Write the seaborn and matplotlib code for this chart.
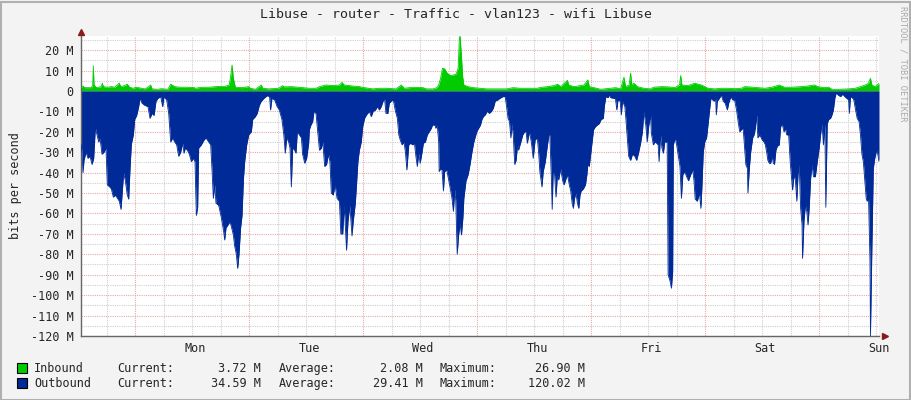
import numpy as np
import matplotlib
matplotlib.use('Agg')
import matplotlib.pyplot as plt
import seaborn as sns
from matplotlib.patches import Rectangle

# hours since left edge of graph, values in Mbit/s
in_hours = [0.0, 0.42, 0.77, 2.18, 2.46, 2.6, 2.74, 3.23, 4.28, 4.49, 4.7, 5.54, 6.39, 7.09, 8.07, 8.35,
            9.19, 9.75, 10.25, 10.95, 11.65, 12.7, 13.4, 13.75, 14.67, 14.95, 16.21, 16.9, 18.3, 18.88,
            19.72, 20.4, 21.1, 22.5, 23.9,
            24.0, 25.5, 26.9, 28.3, 30.4, 31.2, 31.5, 31.8, 32.07, 32.5, 33.9, 35.3, 35.65, 36.7, 37.96,
            38.25, 39.5, 41.6, 42.46, 42.74, 44.3, 45.8, 47.9,
            48.0, 49.5, 50.2, 51.6, 53.0, 54.4, 54.95, 55.4, 57.2, 58.6, 59.65, 61.4, 62.8, 64.2, 66.3,
            67.4, 68.1, 69.8, 72.0,
            72.7, 74.2, 74.9, 75.3, 75.7, 76.1, 76.56, 77.1, 77.8, 78.4, 78.95, 79.4, 79.65, 79.8, 80.07,
            80.35, 80.6, 81.5, 82.6, 84.0, 85.4, 86.8, 88.2, 89.6, 91.0, 92.4, 94.5, 96.0,
            97.0, 98.2, 99.6, 100.3, 101.0, 102.4, 102.67, 103.8, 105.2, 105.9, 106.7, 107.0, 108.0,
            109.4, 111.5, 112.6, 113.6, 114.3, 114.65, 115.4, 115.7, 115.96, 116.4, 117.1, 118.5, 119.9,
            120.5, 122.2, 123.6, 125.0, 126.0, 126.25, 126.5, 127.8, 129.2, 129.9, 130.6, 131.3, 132.0,
            133.4, 134.8, 136.2, 137.6, 139.0, 139.7, 141.1, 142.5, 144.0,
            145.4, 147.0, 148.1, 149.5, 151.6, 153.0, 154.4, 155.1, 156.5, 157.4, 158.1, 159.5, 161.6,
            163.0, 163.7, 165.1, 165.8, 166.2, 166.5, 167.2, 168.0]
in_bits = [1.6, 2.4, 1.6, 1.6, 2.9, 12.2, 2.9, 1.6, 2.1, 3.8, 2.1, 1.8, 2.1, 1.8, 3.8, 2.1,
           2.6, 3.3, 1.8, 1.3, 1.8, 1.3, 1.0, 1.3, 2.9, 1.0, 0.8, 1.1, 0.8, 3.3,
           2.1, 1.9, 1.8, 1.8, 1.6,
           1.3, 1.8, 1.8, 2.1, 2.3, 2.9, 7.0, 12.7, 6.2, 1.8, 1.6, 2.1, 1.3, 0.8, 2.9,
           1.3, 1.0, 1.3, 2.6, 2.0, 2.1, 1.8, 1.3,
           1.3, 1.3, 2.1, 2.9, 2.6, 2.9, 4.2, 2.9, 2.4, 2.1, 1.6, 1.0, 1.3, 1.3, 1.0,
           2.9, 1.3, 1.8, 1.6,
           1.0, 1.0, 1.6, 2.9, 6.2, 11.1, 10.8, 8.7, 7.5, 7.8, 8.2, 11.1, 25.8, 26.9, 17.6,
           7.0, 2.9, 2.1, 1.6, 1.3, 1.0, 1.0, 1.0, 1.0, 1.6, 1.3, 1.3, 1.3,
           1.8, 2.1, 2.6, 3.3, 2.1, 5.2, 2.9, 2.1, 2.6, 2.9, 5.4, 2.1, 1.6,
           0.8, 1.3, 1.6, 1.0, 6.7, 2.1, 2.9, 8.7, 2.9, 3.8, 2.1, 1.3, 1.0,
           1.8, 2.1, 2.0, 1.6, 2.9, 7.5, 2.9, 2.6, 3.8, 3.3, 2.9, 2.1, 1.3,
           1.0, 1.3, 1.3, 1.1, 1.3, 2.1, 1.9, 1.6, 1.3,
           1.8, 2.9, 1.8, 1.8, 2.1, 2.4, 2.9, 2.1, 1.6, 1.8, 0.8, 0.8, 1.0,
           1.3, 1.8, 2.9, 3.8, 6.2, 2.9, 2.1, 3.72]

out_hours = [0.0, 0.21, 0.42, 0.63, 1.05, 1.47, 1.89, 2.32, 2.67, 3.02, 3.37, 3.72, 4.0, 4.42, 4.84,
             5.26, 5.54, 6.04, 6.39, 6.81, 7.23, 7.65, 8.07, 8.42, 8.7, 8.98, 9.33, 9.75, 10.04, 10.32,
             10.6, 11.02, 11.3, 11.72, 12.14, 12.42, 12.84, 13.4, 14.1, 14.53, 14.95, 15.37, 15.79,
             16.21, 16.77, 17.19, 17.47, 18.04, 18.46, 18.88, 19.3, 19.72, 20.14, 20.56, 20.98, 21.4,
             21.68, 21.96, 22.39, 22.81, 23.23, 23.65, 24.0,
             24.28, 24.56, 24.77, 25.33, 25.9, 26.3, 26.9, 27.3, 27.6, 27.86, 28.14, 28.42, 28.98, 29.54,
             30.04, 30.25, 30.53, 30.95, 31.37, 31.65, 32.07, 32.35, 32.7, 32.98, 33.26, 33.6, 33.9,
             34.2, 34.46, 34.88, 35.3, 35.86, 36.14, 36.7, 37.1, 37.54, 37.96, 38.53, 39.2, 39.7, 39.9,
             40.2, 40.77, 41.3, 41.75, 42.3, 42.7, 43.0, 43.3, 43.72, 44.0, 44.28, 44.56, 44.98, 45.26,
             45.54, 45.96, 46.4, 46.65, 47.1, 47.5, 47.93,
             48.07, 48.4, 48.77, 49.05, 49.47, 49.9, 50.2, 50.6, 50.9, 51.3, 51.7, 52.1, 52.4, 52.7,
             53.1, 53.5, 53.9, 54.4, 54.7, 55.1, 55.4, 55.6, 55.9, 56.2, 56.6, 57.05, 57.3, 57.75, 58.0,
             58.3, 58.6, 59.0, 59.3, 59.7, 60.1, 60.7, 61.1, 61.5, 62.0, 62.4, 62.8, 63.2, 63.6, 63.9,
             64.2, 64.6, 64.9, 65.3, 65.75, 66.2, 66.6, 66.9, 67.2, 67.6, 68.0, 68.3, 68.6, 69.0, 69.4,
             69.8, 70.2, 70.5, 70.8, 71.1, 71.4, 71.8,
             72.07, 72.5, 72.9, 73.3, 73.75, 74.0, 74.5, 74.7, 75.0, 75.3, 75.4, 75.7, 76.0, 76.3, 76.56,
             77.0, 77.4, 77.8, 78.1, 78.4, 78.7, 78.9, 79.2, 79.5, 79.8, 80.1, 80.4, 80.6, 81.05, 81.5,
             81.9, 82.3, 82.7, 83.3, 83.7, 84.1, 84.4, 84.7, 85.1, 85.5, 85.96, 86.4, 86.8, 87.2, 87.75,
             88.2, 88.8, 89.3, 89.6, 89.9, 90.2, 90.5, 90.7, 91.0, 91.3, 91.6, 91.9, 92.1, 92.6, 93.0,
             93.4, 93.7, 93.96, 94.4, 94.8, 95.2, 95.6,
             96.07, 96.35, 96.6, 97.05, 97.3, 97.75, 98.2, 98.5, 98.7, 99.0, 99.2, 99.4, 99.7, 100.0,
             100.3, 100.56, 100.98, 101.4, 101.7, 102.1, 102.4, 102.8, 103.1, 103.4, 103.65, 103.9,
             104.2, 104.5, 104.8, 105.05, 105.3, 105.75, 106.2, 106.5, 106.7, 107.0, 107.3, 107.6, 107.9,
             108.3, 108.7, 109.1, 109.5, 109.96, 110.2, 110.5, 110.95, 111.2, 111.5, 112.1, 112.5, 112.8,
             113.05, 113.5, 113.75, 114.0, 114.5, 114.7, 115.0, 115.3, 115.7, 116.1, 116.6, 116.98,
             117.4, 117.8, 118.2, 118.5, 118.9, 119.2, 119.5, 119.9,
             120.07, 120.5, 120.8, 121.2, 121.5, 121.7, 122.0, 122.3, 122.6, 122.9, 123.2, 123.4, 123.6,
             124.0, 124.3, 124.56, 124.7, 125.1, 125.4, 125.7, 126.1, 126.4, 126.7, 127.1, 127.5, 127.9,
             128.35, 128.8, 129.05, 129.3, 129.75, 130.2, 130.5, 130.7, 131.0, 131.3, 131.7, 132.0,
             132.3, 132.6, 132.98, 133.3, 133.6, 133.75, 133.96, 134.4, 134.8, 135.2, 135.6, 136.07,
             136.35, 136.8, 137.2, 137.6, 138.0, 138.5, 138.7, 139.0, 139.4, 139.7, 139.96, 140.3, 140.4,
             140.7, 140.98, 141.4, 141.7, 141.96, 142.25, 142.5, 142.9, 143.4, 143.8,
             144.07, 144.35, 144.6, 144.9, 145.2, 145.5, 145.75, 146.0, 146.3, 146.6, 147.0, 147.3,
             147.6, 148.0, 148.3, 148.56, 148.98, 149.3, 149.5, 149.8, 150.1, 150.4, 150.7, 150.95,
             151.2, 151.5, 151.8, 151.9, 152.2, 152.5, 152.8, 153.05, 153.3, 153.6, 153.9, 154.2, 154.6,
             155.0, 155.4, 155.7, 156.0, 156.3, 156.6, 156.8, 157.1, 157.4, 157.8, 158.1, 158.4, 158.7,
             158.98, 159.4, 159.9, 160.35, 160.8, 161.2, 161.6, 161.75, 162.0, 162.5, 162.7, 163.0,
             163.4, 163.8, 164.1, 164.4, 164.7, 164.98, 165.3, 165.5, 165.8, 166.1, 166.2, 166.5, 166.8,
             167.1, 167.4, 167.6, 168.0]
out_bits = [26, 30, 40, 34, 30, 33, 32, 36, 33, 18, 21.5, 25, 23, 31, 30,
            28, 46, 47, 48, 52, 51, 52.5, 54, 58, 49, 40, 44, 51, 53, 38,
            26, 21.5, 14, 12, 7.7, 3.6, 6, 7, 7.7, 13.4, 11, 12, 5,
            3.6, 2.8, 7.7, 2.8, 4.4, 11, 25, 23, 25, 26.4, 32, 30, 25.6,
            30.5, 28, 29, 31, 34.6, 33, 34.6,
            61, 57, 28, 26.4, 24, 23, 25, 26.4, 39.5, 52.6, 46, 55, 56, 62,
            69, 73, 67, 65.6, 64, 66.4, 70.5, 76, 80, 86.9, 80, 67, 61,
            43, 34.6, 26.4, 21.5, 20, 14, 12.6, 11, 7, 5, 3.6, 2.3, 2.8, 9.3,
            3.6, 4.4, 7.7, 9.3, 14, 21.5, 30.5, 23, 25, 28, 47, 28, 29, 30.5,
            20, 21.5, 23, 31, 35.4, 33, 25.6,
            19, 16.7, 15, 10, 11, 21.5, 29, 28, 25, 37, 36, 31, 34.6, 50,
            51, 46, 52.6, 54, 70, 70, 56, 64, 78, 64, 56, 71, 64, 55, 46,
            34.6, 29, 25, 17.5, 13.4, 11.7, 10, 12.6, 10, 9.3, 7.7, 9.3, 7.7, 5, 3.6,
            11, 11, 6, 5, 4.4, 10, 13.4, 21.5, 24, 26.4, 25, 30, 38.7, 26.4, 25.6,
            26.4, 25.6, 32, 37, 30.5, 35.4, 30,
            25.6, 25, 21.5, 20, 18.3, 16.7, 16.7, 18.3, 16.7, 25, 39.5, 38, 38.7, 49, 39.5,
            38.7, 43.6, 48.5, 52.6, 59, 48, 54, 80, 70.5, 65, 70.5, 62, 52.6, 44, 41,
            36, 30, 25, 20, 18.3, 16.7, 14, 12.6, 11.7, 10, 11, 10, 8.5, 5, 4.4,
            3.6, 2.8, 2.8, 7.7, 13.4, 15, 23, 16, 21.5, 36, 34, 26.4, 29, 25, 21.5,
            20, 20, 25.6, 20, 25, 33, 24,
            23, 30.5, 39.5, 47, 39.5, 34.6, 26.4, 21.5, 21.5, 41, 58, 39.5, 41, 52,
            41, 43.6, 38, 44, 46, 43, 41, 46, 49, 55, 57.5, 52.6,
            50, 55, 57.5, 51, 49, 48, 46, 41, 36, 37, 31, 25, 19,
            17.5, 16.7, 16, 14, 13.4, 7, 2.8, 3.3, 2, 3.3, 3.6, 3.6, 9.3,
            4.4, 5, 11.7, 5, 7.7, 13.4, 23, 32, 34, 31, 32, 34,
            30, 25.6, 20, 10, 16.7, 25, 17.5, 11.7,
            20.7, 26.4, 25, 25.6, 26.4, 34.6, 21.5, 28, 30.5, 25, 25, 25, 90,
            93, 96.6, 88.5, 26.4, 23, 26.4, 31, 37, 52.6, 41, 39.5, 42, 44,
            41, 38.7, 44, 53, 54, 50, 57.5, 48, 30, 25, 23, 16.7,
            10, 3.6, 4.4, 5, 3.6, 11.7, 5, 3.6, 2, 5, 6, 9.3,
            6, 2.8, 4.4, 4.4, 9.3, 17.5, 20, 19, 18.3, 28, 36, 38, 50,
            38, 30, 23, 21.5, 18.3, 11.7, 23, 21.5, 24, 25,
            26.4, 30, 34, 35.4, 35.4, 32, 35.4, 36, 29, 27, 26.4, 17.5,
            16, 20, 18.3, 21.5, 21.5, 34.6, 40, 48.5, 41, 44, 54, 41,
            36, 57.5, 65.6, 82, 64, 56, 59, 65.6, 57.5, 43, 36, 42, 42,
            34.6, 28, 21.5, 16, 26.4, 16, 57, 16, 14, 13.4, 11.7, 9.3, 3.6,
            1, 2, 2.8, 1.6, 2.8, 3.6, 4.4, 11, 2.8, 3.6, 4.4, 8.5,
            13.4, 15, 21.5, 31, 34.6, 43, 52.6, 54, 52.6, 83.6, 120, 77, 38,
            33, 30, 29, 34.6]

day_labels = ['Mon', 'Tue', 'Wed', 'Thu', 'Fri', 'Sat', 'Sun']
day_hours = [24, 48, 72, 96, 120, 144, 168]

series_names = ['Inbound', 'Outbound']
series_colors = ['#00cc00', '#002a97']
current = ['3.72 M', '34.59 M']
average = ['2.08 M', '29.41 M']
maximum = ['26.90 M', '120.02 M']

in_h = np.array(in_hours)
in_v = np.array(in_bits)
out_h = np.array(out_hours)
out_v = -np.array(out_bits)

sns.set_theme(style='white')
plt.rcParams['font.family'] = ['DejaVu Sans Mono']

W, H = 911, 400
fig = plt.figure(figsize=(W / 100, H / 100), dpi=100, facecolor='#f3f3f3')
ax = fig.add_axes([81 / W, 64 / H, 798 / W, 300 / H])
ax.set_facecolor('white')

# grid (drawn under the data)
for y in np.arange(-120, 26, 5):
    c = '#e8a8a8' if y % 10 == 0 else '#cfcfcf'
    ax.axhline(y, color=c, lw=0.8, ls=(0, (1, 1)), zorder=0)
for x in np.arange(5.4, 168, 6):
    c = '#e8a8a8' if abs((x - 11.4) % 24) < 0.01 else '#cfcfcf'
    ax.axvline(x, color=c, lw=0.8, ls=(0, (1, 1)), zorder=0)

# areas
ax.fill_between(in_h, 0, in_v, color=series_colors[0], lw=0, zorder=2)
ax.fill_between(out_h, 0, out_v, color=series_colors[1], lw=0, zorder=2)
sns.lineplot(x=in_h, y=in_v, ax=ax, color=series_colors[0], lw=0.6, estimator=None, zorder=3)
sns.lineplot(x=out_h, y=out_v, ax=ax, color=series_colors[1], lw=0.6, estimator=None, zorder=3)

ax.set_xlim(0, 168)
ax.set_ylim(-120.02, 26.9)

yt = np.arange(-120, 21, 10)
ax.set_yticks(yt)
ax.set_yticklabels(['0' if v == 0 else f'{v} M' for v in yt], fontsize=8.5)
ax.set_yticks(np.arange(-115, 26, 10), minor=True)
ax.set_xticks(day_hours)
ax.set_xticklabels(day_labels, fontsize=8.5)
ax.tick_params(axis='y', which='major', direction='inout', length=5, width=0.8, color='#555555', pad=3)
ax.tick_params(axis='y', which='minor', direction='inout', length=3, width=0.8, color='#555555')
ax.tick_params(axis='x', length=0, pad=4)
ax.set_xlabel('')
ax.set_ylabel('bits per second', fontsize=8.5, labelpad=6)

for s in ['top', 'right']:
    ax.spines[s].set_visible(False)
for s in ['left', 'bottom']:
    ax.spines[s].set_color('#666666')
    ax.spines[s].set_linewidth(1.0)

# axis arrows
ax.plot([0], [1.015], marker='^', ms=4.5, color='#8b1a1a', transform=ax.transAxes, clip_on=False)
ax.plot([1.008], [0], marker='>', ms=4.5, color='#8b1a1a', transform=ax.transAxes, clip_on=False)

fig.text(0.5, 1 - 14 / H, 'Libuse - router - Traffic - vlan123 - wifi Libuse',
         ha='center', va='center', fontsize=9.5)
fig.text(903 / W, 1 - 64 / H, 'RRDTOOL / TOBI OETIKER', rotation=-90,
         ha='center', va='center', fontsize=6.3, color='#aaaaaa')

# legend
for i, name in enumerate(series_names):
    yc = 368 + 15 * i
    fig.patches.append(Rectangle((17 / W, 1 - (yc + 5) / H), 10 / W, 10 / H,
                                 transform=fig.transFigure, facecolor=series_colors[i],
                                 edgecolor='black', lw=0.8))
    kw = dict(va='baseline', fontsize=8.5)
    fy = 1 - (yc + 4) / H
    fig.text(34 / W, fy, name, ha='left', **kw)
    fig.text(117 / W, fy, 'Current:', ha='left', **kw)
    fig.text(261 / W, fy, current[i], ha='right', **kw)
    fig.text(279 / W, fy, 'Average:', ha='left', **kw)
    fig.text(423 / W, fy, average[i], ha='right', **kw)
    fig.text(440 / W, fy, 'Maximum:', ha='left', **kw)
    fig.text(585 / W, fy, maximum[i], ha='right', **kw)

# frame
fig.patches.append(Rectangle((0.5 / W, 0.5 / H), 1 - 2 / W, 1 - 2 / H, transform=fig.transFigure,
                             fill=False, edgecolor='#b0b0b0', lw=1.5))

fig.savefig('out.png', dpi=100, facecolor=fig.get_facecolor())
